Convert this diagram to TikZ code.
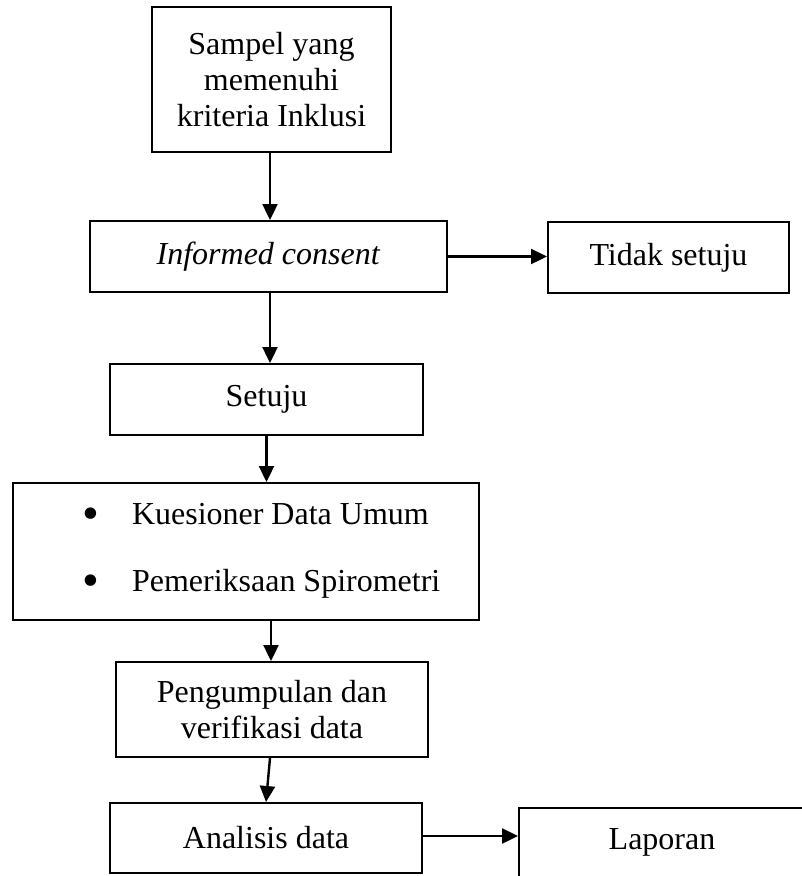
\documentclass[tikz,border=0pt]{standalone}
\usepackage{fontspec}
\setmainfont{Liberation Serif}
\usetikzlibrary{arrows.meta}
\newcommand{\mybul}{\raisebox{-5pt}{\scalebox{1.5}{\textbullet}}}
\begin{document}
\begin{tikzpicture}[x=1pt,y=-1pt,
  box/.style={draw=black, line width=2pt, rectangle, inner sep=0pt, align=center,
    font=\fontsize{32}{36}\selectfont},
  txt/.style={inner sep=0pt, font=\fontsize{32}{36}\selectfont},
  arr/.style={line width=2.4pt, -{Triangle[width=15pt,length=16pt]}}]
\useasboundingbox (0,0) rectangle (802,876);
\node[box, minimum width=239pt, minimum height=145pt] (b1) at (271.5,79.5) {Sampel yang\\memenuhi\\kriteria Inklusi};
\node[box, minimum width=357pt, minimum height=71pt] (b2) at (268.5,256.5) {\textit{Informed consent}};
\node[box, minimum width=241pt, minimum height=71pt] (b3) at (668.5,257.5) {Tidak setuju};
\node[box, minimum width=313pt, minimum height=71pt] (b4) at (266.5,399.5) {Setuju};
\node[box, minimum width=466pt, minimum height=137pt] (b5) at (246,551.5) {};
\node[txt, anchor=west] (b5t) at (82,551) {\begin{tabular}{@{}l@{\hspace{33pt}}l@{}}\mybul & Kuesioner Data Umum\\[31pt]\mybul & Pemeriksaan Spirometri\end{tabular}};
\node[box, minimum width=312pt, minimum height=95pt] (b6) at (272,709.5) {Pengumpulan dan\\verifikasi data};
\node[box, minimum width=312pt, minimum height=70pt] (b7) at (266,838) {Analisis data};
\node[box, anchor=north west, minimum width=300pt, minimum height=90pt] (b8) at (518,807) {};
\node[txt] (b8t) at (662,842) {Laporan};
\draw[arr] ([xshift=-1.5pt]b1.south) -- ([xshift=1.5pt]b2.north);
\draw[arr] (b2.east) -- (b2.east -| b3.west);
\draw[arr] ([xshift=1.5pt]b2.south) -- ([xshift=3.5pt]b4.north);
\draw[arr] (b4.south) -- ([xshift=20.5pt]b5.north);
\draw[arr] ([xshift=25pt]b5.south) -- ([xshift=-1pt]b6.north);
\draw[arr] ([xshift=-2pt]b6.south) -- (b7.north);
\draw[arr] ([yshift=2pt]b7.east) -- ([yshift=2pt]b7.east -| b8.west);
\end{tikzpicture}
\end{document}
